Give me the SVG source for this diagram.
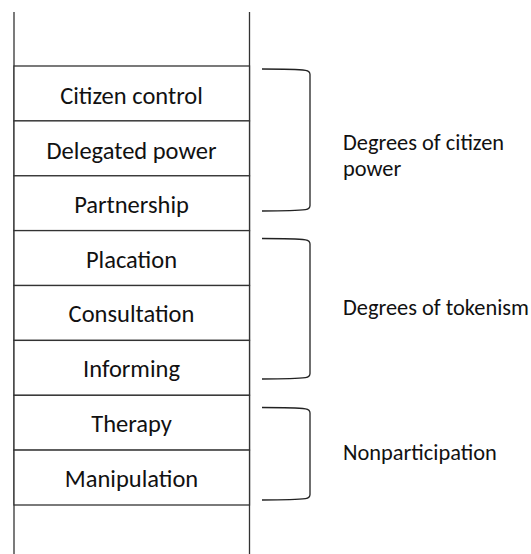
<svg xmlns="http://www.w3.org/2000/svg" width="531" height="554" viewBox="0 0 531 554">
<style>
.rail{stroke:#333;stroke-width:1.3;fill:none}
.rung{fill:#fff;stroke:#333;stroke-width:1.3}
.lbl{font-family:Calibri,Carlito,Lato,"Liberation Sans",sans-serif;font-size:24.5px;fill:#111;text-anchor:middle}
.grp{font-family:Calibri,Carlito,Lato,"Liberation Sans",sans-serif;font-size:22.4px;fill:#111}
.brace{fill:none;stroke:#222;stroke-width:1.3}
</style>
<rect width="531" height="554" fill="#fff"/>
<g id="ladder">
<line class="rail" x1="14" y1="12" x2="14" y2="554"/>
<line class="rail" x1="249.5" y1="12" x2="249.5" y2="554"/>
</g>
<g id="citizen-control"><rect class="rung" x="14" y="66" width="235.5" height="54.9"/><text class="lbl" x="131.5" y="104">Citizen control</text></g>
<g id="delegated-power"><rect class="rung" x="14" y="120.9" width="235.5" height="54.9"/><text class="lbl" x="131.5" y="158.6">Delegated power</text></g>
<g id="partnership"><rect class="rung" x="14" y="175.8" width="235.5" height="54.8"/><text class="lbl" x="131.5" y="213.3">Partnership</text></g>
<g id="placation"><rect class="rung" x="14" y="230.6" width="235.5" height="54.9"/><text class="lbl" x="131.5" y="267.5">Placation</text></g>
<g id="consultation"><rect class="rung" x="14" y="285.5" width="235.5" height="54.9"/><text class="lbl" x="131.5" y="322.3">Consultation</text></g>
<g id="informing"><rect class="rung" x="14" y="340.4" width="235.5" height="54.9"/><text class="lbl" x="131.5" y="377.2">Informing</text></g>
<g id="therapy"><rect class="rung" x="14" y="395.3" width="235.5" height="54.8"/><text class="lbl" x="131.5" y="432.2">Therapy</text></g>
<g id="manipulation"><rect class="rung" x="14" y="450.1" width="235.5" height="54.9"/><text class="lbl" x="131.5" y="487.2">Manipulation</text></g>
<g id="connectors">
<path class="brace" d="M262,69 C285,69 299,69.4 305.5,70.3 Q310,71 310,74.5 L310,205.5 Q310,209 305.5,209.7 C299,210.6 285,211 262,211"/>
<path class="brace" d="M262,238.5 C285,238.5 299,238.9 305.5,239.8 Q310,240.5 310,244 L310,373.5 Q310,377 305.5,377.7 C299,378.6 285,379 262,379"/>
<path class="brace" d="M262,407.5 C285,407.5 299,407.9 305.5,408.8 Q310,409.5 310,413 L310,494.5 Q310,498 305.5,498.7 C299,499.6 285,500 262,500"/>
</g>
<g id="citizen-power"><text class="grp" x="343" y="150">Degrees of citizen</text><text class="grp" x="343" y="176">power</text></g>
<g id="tokenism"><text class="grp" x="343" y="315">Degrees of tokenism</text></g>
<g id="nonparticipation"><text class="grp" x="343" y="460">Nonparticipation</text></g>
</svg>
